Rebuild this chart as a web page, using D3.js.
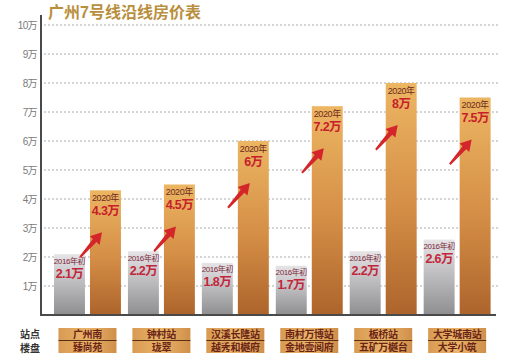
<!DOCTYPE html>
<html>
<head>
<meta charset="utf-8">
<script src="https://cdn.jsdelivr.net/npm/d3@7"></script>
<style>
  body { margin: 0; background: #fff; }
  svg { font-family: "Liberation Sans", "Noto Sans CJK SC", sans-serif; }
</style>
</head>
<body>
<svg width="505" height="360"></svg>
<script>
// data
var stations = ["广州南", "钟村站", "汉溪长隆站", "南村万博站", "板桥站", "大学城南站"];
var estates = ["臻尚苑", "珑翠", "越秀和樾府", "金地壹阅府", "五矿万樾台", "大学小筑"];
var price2016 = [2.1, 2.2, 1.8, 1.7, 2.2, 2.6];
var price2020 = [4.3, 4.5, 6, 7.2, 8, 7.5];
var yTicks = [1, 2, 3, 4, 5, 6, 7, 8, 9, 10];

var svg = d3.select("svg");

var x = d3.scaleBand().domain(stations).range([50.3, 494.3])
    .paddingInner(7 / 74).paddingOuter(0.05);
var sub = d3.scaleBand().domain(["2016", "2020"]).range([0, x.bandwidth()])
    .paddingInner(0.14);
var y = d3.scaleLinear().domain([0, 10]).range([315, 25]);

var defs = svg.append("defs");
var gGray = defs.append("linearGradient").attr("id", "gGray")
    .attr("x1", 0).attr("y1", 0).attr("x2", 0).attr("y2", 1);
gGray.append("stop").attr("offset", "0%").attr("stop-color", "#e6e4e6");
gGray.append("stop").attr("offset", "100%").attr("stop-color", "#8e8e90");
var gOr = defs.append("linearGradient").attr("id", "gOr")
    .attr("x1", 0).attr("y1", 0).attr("x2", 0).attr("y2", 1);
gOr.append("stop").attr("offset", "0%").attr("stop-color", "#ecb663");
gOr.append("stop").attr("offset", "55%").attr("stop-color", "#d48d45");
gOr.append("stop").attr("offset", "100%").attr("stop-color", "#ad642c");
var gBox = defs.append("linearGradient").attr("id", "gBox")
    .attr("x1", 0).attr("y1", 0).attr("x2", 1).attr("y2", 0);
gBox.append("stop").attr("offset", "0%").attr("stop-color", "#d89a52");
gBox.append("stop").attr("offset", "50%").attr("stop-color", "#eab46a");
gBox.append("stop").attr("offset", "100%").attr("stop-color", "#d08f4a");

// title
svg.append("text")
    .attr("x", 48).attr("y", 18)
    .attr("fill", "#b98f3e")
    .attr("font-size", 16).attr("font-weight", "bold")
    .text("广州7号线沿线房价表");

// grid
svg.append("g").selectAll("line")
    .data(yTicks)
    .enter().append("line")
      .attr("x1", 44).attr("x2", 500)
      .attr("y1", function(d) { return y(d); })
      .attr("y2", function(d) { return y(d); })
      .attr("stroke", "#aaa").attr("stroke-width", 1)
      .attr("stroke-dasharray", "2,2");

svg.append("g").selectAll("text")
    .data(yTicks)
    .enter().append("text")
      .attr("x", 37)
      .attr("y", function(d) { return y(d) + 4; })
      .attr("text-anchor", "end")
      .attr("fill", "#7a7a7a")
      .attr("font-size", 10)
      .attr("letter-spacing", -0.6)
      .text(function(d) { return d + "万"; });

// bars
var groups = svg.append("g").selectAll("g")
    .data(stations)
    .enter().append("g")
      .attr("transform", function(d) { return "translate(" + x(d) + ",0)"; });

groups.append("rect")
    .attr("x", sub("2016"))
    .attr("y", function(d, i) { return y(price2016[i]); })
    .attr("width", sub.bandwidth())
    .attr("height", function(d, i) { return y(0) - y(price2016[i]); })
    .attr("fill", "url(#gGray)");

groups.append("rect")
    .attr("x", sub("2020"))
    .attr("y", function(d, i) { return y(price2020[i]); })
    .attr("width", sub.bandwidth())
    .attr("height", function(d, i) { return y(0) - y(price2020[i]); })
    .attr("fill", "url(#gOr)");

// labels in gray bars
var cx16 = sub("2016") + sub.bandwidth() / 2;
groups.append("text")
    .attr("x", cx16)
    .attr("y", function(d, i) { return y(price2016[i]) + 9.5; })
    .attr("text-anchor", "middle")
    .attr("fill", "#7d2a3c").attr("font-size", 8).attr("letter-spacing", -0.4)
    .text("2016年初");
groups.append("text")
    .attr("x", cx16)
    .attr("y", function(d, i) { return y(price2016[i]) + 23.5; })
    .attr("text-anchor", "middle")
    .attr("fill", "#c3263a").attr("font-size", 12.5).attr("font-weight", "bold")
    .attr("letter-spacing", -0.6)
    .text(function(d, i) { return price2016[i] + "万"; });

// labels in orange bars
var cx20 = sub("2020") + sub.bandwidth() / 2;
groups.append("text")
    .attr("x", cx20)
    .attr("y", function(d, i) { return y(price2020[i]) + 10.5; })
    .attr("text-anchor", "middle")
    .attr("fill", "#6e2a1c").attr("font-size", 9).attr("letter-spacing", -0.4)
    .text("2020年");
groups.append("text")
    .attr("x", cx20)
    .attr("y", function(d, i) { return y(price2020[i]) + 24.5; })
    .attr("text-anchor", "middle")
    .attr("fill", "#c8202a").attr("font-size", 12.5).attr("font-weight", "bold")
    .attr("letter-spacing", -0.6)
    .text(function(d, i) { return price2020[i] + "万"; });

// arrows
groups.append("path")
    .attr("d", function(d, i) {
      var tx = sub("2020") + 12, ty = y(price2020[i]) + 42;
      var ang = Math.atan2(-25, 22);
      var L = 33, hl = 11, hw = 6.5, sw = 2.4;
      var ux = Math.cos(ang), uy = Math.sin(ang), px = -uy, py = ux;
      var bx = tx - ux * hl, by = ty - uy * hl;
      var sx = tx - ux * L, sy = ty - uy * L;
      var pts = [
        [sx + px * 1, sy + py * 1],
        [bx + px * sw, by + py * sw],
        [bx + px * hw, by + py * hw],
        [tx, ty],
        [bx - px * hw, by - py * hw],
        [bx - px * sw, by - py * sw],
        [sx - px * 1, sy - py * 1]
      ];
      return "M" + pts.map(function(p) { return p[0].toFixed(1) + "," + p[1].toFixed(1); }).join("L") + "Z";
    })
    .attr("fill", "#d4262a");

// axes lines
svg.append("line").attr("x1", 41).attr("x2", 41).attr("y1", 15).attr("y2", 316)
    .attr("stroke", "#4a4a4a").attr("stroke-width", 2);
svg.append("line").attr("x1", 40).attr("x2", 496).attr("y1", 315).attr("y2", 315)
    .attr("stroke", "#4a4a4a").attr("stroke-width", 2);

// bottom table
svg.append("text").attr("x", 30).attr("y", 338).attr("text-anchor", "middle")
    .attr("fill", "#333").attr("font-size", 10).attr("font-weight", "bold").text("站点");
svg.append("text").attr("x", 30).attr("y", 352).attr("text-anchor", "middle")
    .attr("fill", "#333").attr("font-size", 10).attr("font-weight", "bold").text("楼盘");

var boxes = svg.append("g").selectAll("g")
    .data(stations)
    .enter().append("g")
      .attr("transform", function(d) { return "translate(" + (x(d) + x.bandwidth() / 2) + ",0)"; });
boxes.append("rect")
    .attr("x", -29).attr("y", 328).attr("width", 58).attr("height", 25)
    .attr("fill", "url(#gBox)");
boxes.append("line")
    .attr("x1", -29).attr("x2", 29).attr("y1", 340.5).attr("y2", 340.5)
    .attr("stroke", "#5a2e14").attr("stroke-width", 1.2);
boxes.append("text")
    .attr("y", 338).attr("text-anchor", "middle")
    .attr("fill", "#6a2416").attr("font-size", 10).attr("font-weight", "bold")
    .attr("letter-spacing", -0.3)
    .text(function(d) { return d; });
boxes.append("text")
    .attr("y", 351).attr("text-anchor", "middle")
    .attr("fill", "#6a2416").attr("font-size", 10).attr("font-weight", "bold")
    .attr("letter-spacing", -0.3)
    .text(function(d, i) { return estates[i]; });
</script>
</body>
</html>
